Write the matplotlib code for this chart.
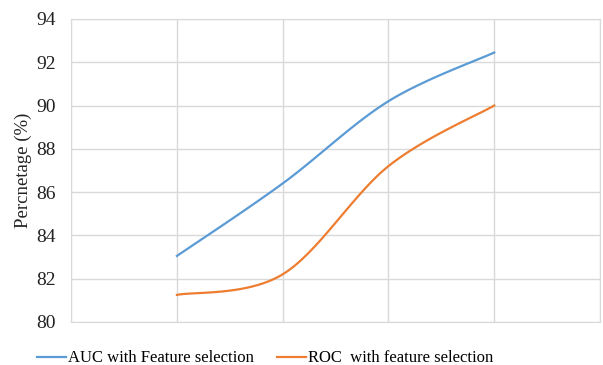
import numpy as np
import matplotlib.pyplot as plt

plt.rcParams['font.family'] = ['Liberation Serif', 'DejaVu Serif']

# data
positions = [1, 2, 3, 4]
auc = [83.05, 86.4, 90.2, 92.45]
roc = [81.25, 82.2, 87.2, 90.0]
labels = ['AUC with Feature selection', 'ROC  with feature selection']
yticks = [80, 82, 84, 86, 88, 90, 92, 94]


def smooth(x, y, n=40):
    # excel style smoothed line: cubic bezier with catmull-rom control points
    x = np.asarray(x, float)
    y = np.asarray(y, float)
    px = np.concatenate([[x[0]], x, [x[-1]]])
    py = np.concatenate([[y[0]], y, [y[-1]]])
    xs, ys = [], []
    t = np.linspace(0, 1, n)
    for i in range(len(x) - 1):
        p0 = np.array([px[i + 1], py[i + 1]])
        p3 = np.array([px[i + 2], py[i + 2]])
        c1 = p0 + (np.array([px[i + 2], py[i + 2]]) - np.array([px[i], py[i]])) / 6
        c2 = p3 - (np.array([px[i + 3], py[i + 3]]) - np.array([px[i + 1], py[i + 1]])) / 6
        b = ((1 - t) ** 3)[:, None] * p0 + (3 * (1 - t) ** 2 * t)[:, None] * c1 \
            + (3 * (1 - t) * t ** 2)[:, None] * c2 + (t ** 3)[:, None] * p3
        xs.extend(b[:, 0])
        ys.extend(b[:, 1])
    return xs, ys


fig = plt.figure(figsize=(6.03, 3.65), dpi=100)
ax = fig.add_axes([0.118, 0.118, 0.877, 0.83])

for vals, col, lab in [(auc, '#5B9BD5', labels[0]), (roc, '#ED7D31', labels[1])]:
    sx, sy = smooth(positions, vals)
    ax.plot(sx, sy, color=col, lw=1.6, label=lab)

ax.set_xlim(0, 5)
ax.set_ylim(80, 94)
ax.set_yticks(yticks)
ax.set_xticks([0, 1, 2, 3, 4, 5])
ax.set_xticklabels([])
ax.tick_params(length=0)
ax.tick_params(axis='y', labelsize=14, pad=11, colors='#222222')
ax.grid(True, color='#D9D9D9', lw=1)
for s in ax.spines.values():
    s.set_color('#D9D9D9')
ax.set_ylabel('Percnetage (%)', fontsize=13.5, color='#222222', labelpad=3)

fig.legend(*ax.get_legend_handles_labels(), loc='center', bbox_to_anchor=(0.44, 0.018),
           ncol=2, frameon=False, fontsize=12, handlelength=1.75, handletextpad=0.1,
           columnspacing=1.4, borderpad=0)

fig.savefig('out.png', dpi=100)
